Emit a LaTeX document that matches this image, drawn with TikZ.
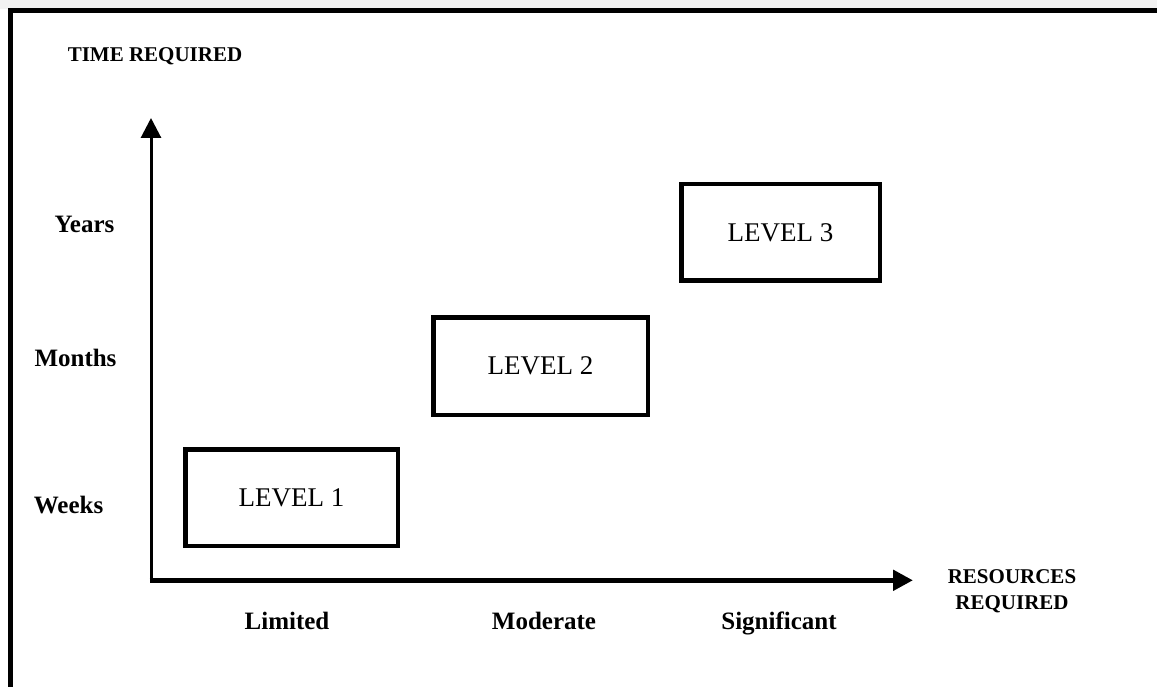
\documentclass[tikz,border=0pt]{standalone}
\usepackage{fontspec}
\setmainfont{Liberation Serif}
\usetikzlibrary{arrows.meta}
\begin{document}
\begin{tikzpicture}[x=1pt,y=-1pt,
  axis/.style={line width=3pt,line cap=rect,-{Triangle[length=20pt,width=20pt]}},
  levelbox/.style={draw,line width=4.5pt,inner sep=0pt,font=\fontsize{27}{30}\selectfont},
  tick/.style={font=\bfseries\fontsize{25}{28}\selectfont,anchor=base,inner sep=0pt},
  axtitle/.style={font=\bfseries\fontsize{21}{26}\selectfont,anchor=base,inner sep=0pt}]
\useasboundingbox (0,0) rectangle (1157,687);
\fill[black!5] (0,0) rectangle (1157,9);
\draw[line width=5pt] (10.5,687) -- (10.5,11) -- (1157,11);
\coordinate (oy) at (151,580);
\coordinate (ox) at (149.5,580.3);
\coordinate (ytip) at (151,118);
\coordinate (xtip) at (913,580.3);
\draw[axis] (oy) -- (ytip);
\draw[axis,line width=5pt,line cap=butt] (ox) -- (xtip);
\node[levelbox,minimum width=212.5pt,minimum height=96.5pt] (l1) at (291.5,497.5) {LEVEL 1};
\node[levelbox,minimum width=214.5pt,minimum height=97.5pt] (l2) at (540.5,366) {LEVEL 2};
\node[levelbox,minimum width=198.5pt,minimum height=96.5pt] (l3) at (780.5,232.5) {LEVEL 3};
\node[tick] (years) at (84.5,233) {Years};
\node[tick] (months) at (75.5,366) {Months};
\node[tick] (weeks) at (68.5,513) {Weeks};
\node[tick] (lim) at (287,629) {Limited};
\node[tick] (mod) at (544,629) {Moderate};
\node[tick] (sig) at (779,629) {Significant};
\node[axtitle] (tr) at (155,62) {TIME REQUIRED};
\node[axtitle] (rr1) at (1012,583) {RESOURCES};
\node[axtitle] (rr2) at (1012,609) {REQUIRED};
\end{tikzpicture}
\end{document}
